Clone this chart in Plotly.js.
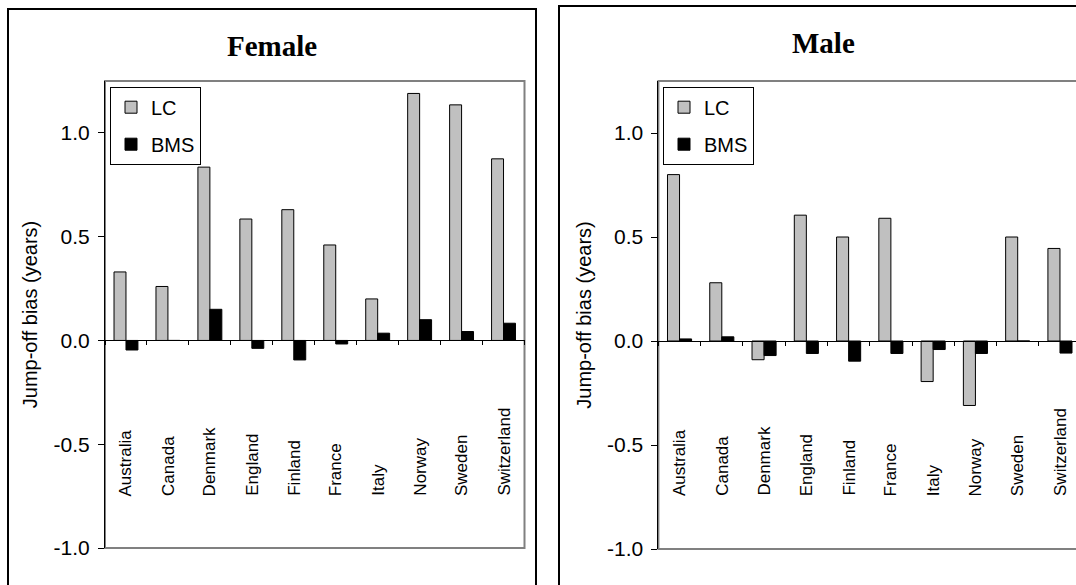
<!DOCTYPE html>
<html>
<head>
<meta charset="utf-8">
<script src="https://cdn.plot.ly/plotly-3.0.1.min.js"></script>
<style>
html,body{margin:0;padding:0;background:#fff;}
#chart{width:1076px;height:585px;}
</style>
</head>
<body>
<div id="chart"></div>
<script>
// ---- data ----
const countries = ["Australia","Canada","Denmark","England","Finland","France","Italy","Norway","Sweden","Switzerland"];
const femaleLC  = [0.33, 0.26, 0.835, 0.585, 0.63, 0.46, 0.20, 1.19, 1.135, 0.875];
const femaleBMS = [-0.046, 0.0, 0.15, -0.038, -0.094, -0.017, 0.035, 0.10, 0.043, 0.083];
const maleLC    = [0.80, 0.28, -0.09, 0.605, 0.50, 0.59, -0.195, -0.31, 0.50, 0.445];
const maleBMS   = [0.01, 0.02, -0.07, -0.06, -0.097, -0.06, -0.041, -0.06, 0.0, -0.058];
const yTickVals = [-1.0, -0.5, 0.0, 0.5, 1.0];
const yTickText = ["-1.0", "-0.5", "0.0", "0.5", "1.0"];
const seriesNames = ["LC", "BMS"];
const panelTitles = ["Female", "Male"];
const yTitle = "Jump-off bias (years)";

// ---- geometry (pixels) ----
const W = 1076, H = 585;
const px = p => p / W;
const py = p => 1 - p / H;
const yMin = -1, yMax = 1.25;
const P1 = {L:105, R:524.5, T:81, B:548};
const P2 = {L:658.4, R:1076, T:81, B:549, cat:42.27};
const labelBaseY = 498;

const sans = "Liberation Sans, Arial, sans-serif";
const serif = "Liberation Serif, Times New Roman, serif";
const lcColor = "#c0c0c0";

function zeroPos(P){
  const d0 = py(P.B), d1 = py(P.T);
  return d0 + (0 - yMin) / (yMax - yMin) * (d1 - d0);
}
const r2max = -0.5 + (P2.R - P2.L) / P2.cat;

const traces = [
  {type:"bar", name:seriesNames[0], x:countries, y:femaleLC, xaxis:"x", yaxis:"y",
   marker:{color:lcColor, line:{color:"#000", width:1}}, legend:"legend", legendgroup:"a"},
  {type:"bar", name:seriesNames[1], x:countries, y:femaleBMS, xaxis:"x", yaxis:"y",
   marker:{color:"#000", line:{color:"#000", width:1}}, legend:"legend", legendgroup:"b"},
  {type:"bar", name:seriesNames[0], x:countries, y:maleLC, xaxis:"x2", yaxis:"y2",
   marker:{color:lcColor, line:{color:"#000", width:1}}, legend:"legend2", legendgroup:"c"},
  {type:"bar", name:seriesNames[1], x:countries, y:maleBMS, xaxis:"x2", yaxis:"y2",
   marker:{color:"#000", line:{color:"#000", width:1}}, legend:"legend2", legendgroup:"d"}
];

function barAxis(P, range){
  return {
    type:"category", domain:[px(P.L), Math.min(1, px(P.R))], range:range,
    anchor:"free", position:zeroPos(P),
    showline:true, linecolor:"#000", linewidth:1,
    ticks:"outside", ticklen:4, tickcolor:"#000", tickwidth:1, tickson:"boundaries",
    showticklabels:false, showgrid:false, zeroline:false, fixedrange:true
  };
}
function valAxis(P, anchor){
  return {
    domain:[py(P.B), py(P.T)], range:[yMin, yMax], anchor:anchor,
    tickmode:"array", tickvals:yTickVals, ticktext:yTickText,
    ticks:"outside", ticklen:6, tickcolor:"#000", ticklabelstandoff:4,
    showline:true, linecolor:"#000", linewidth:1,
    showgrid:false, zeroline:false,
    tickfont:{family:sans, size:21, color:"#000"},
    title:{text:yTitle, font:{family:sans, size:20, color:"#000"}, standoff:10},
    fixedrange:true
  };
}

function legendCfg(xp){
  return {x:px(xp), y:py(86.7), xanchor:"left", yanchor:"top",
    bgcolor:"#fff", bordercolor:"#000", borderwidth:1,
    font:{family:sans, size:20, color:"#000"},
    traceorder:"grouped", tracegroupgap:8, itemclick:false, itemwidth:30};
}

// country labels, vertical, bottom-aligned below the zero line
function countryLabels(xref){
  return countries.map(c => ({
    text:c, xref:xref, yref:"paper", x:c, y:py(labelBaseY),
    xanchor:"center", yanchor:"bottom", textangle:-90, showarrow:false,
    font:{family:sans, size:17, color:"#000"}
  }));
}

const layout = {
  width:W, height:H, margin:{l:0, r:0, t:0, b:0},
  paper_bgcolor:"#fff", plot_bgcolor:"rgba(0,0,0,0)",
  bargap:0.43, bargroupgap:0, barmode:"group",
  showlegend:true,
  xaxis: barAxis(P1, [-0.5, 9.5]),
  yaxis: valAxis(P1, "x"),
  xaxis2: barAxis(P2, [-0.5, r2max]),
  yaxis2: valAxis(P2, "x2"),
  legend: legendCfg(110),
  legend2: legendCfg(663),
  shapes: [
    {type:"rect", xref:"paper", yref:"paper", x0:px(P1.L), x1:px(P1.R), y0:py(P1.B), y1:py(P1.T),
     line:{color:"#808080", width:2}, layer:"below"},
    {type:"rect", xref:"paper", yref:"paper", x0:px(P2.L), x1:px(1082), y0:py(P2.B), y1:py(P2.T),
     line:{color:"#808080", width:2}, layer:"below"},
    {type:"rect", xref:"paper", yref:"paper", x0:px(8), x1:px(536), y0:py(600), y1:py(9),
     line:{color:"#000", width:2}},
    {type:"rect", xref:"paper", yref:"paper", x0:px(559), x1:px(1100), y0:py(600), y1:py(6),
     line:{color:"#000", width:2}}
  ],
  annotations: [
    {text:"<b>"+panelTitles[0]+"</b>", xref:"paper", yref:"paper", x:px(272), y:py(46),
     xanchor:"center", yanchor:"middle", showarrow:false, font:{family:serif, size:29, color:"#000"}},
    {text:"<b>"+panelTitles[1]+"</b>", xref:"paper", yref:"paper", x:px(823.5), y:py(43),
     xanchor:"center", yanchor:"middle", showarrow:false, font:{family:serif, size:29, color:"#000"}}
  ].concat(countryLabels("x"), countryLabels("x2"))
};

Plotly.newPlot("chart", traces, layout, {displayModeBar:false, staticPlot:true});
</script>
</body>
</html>
